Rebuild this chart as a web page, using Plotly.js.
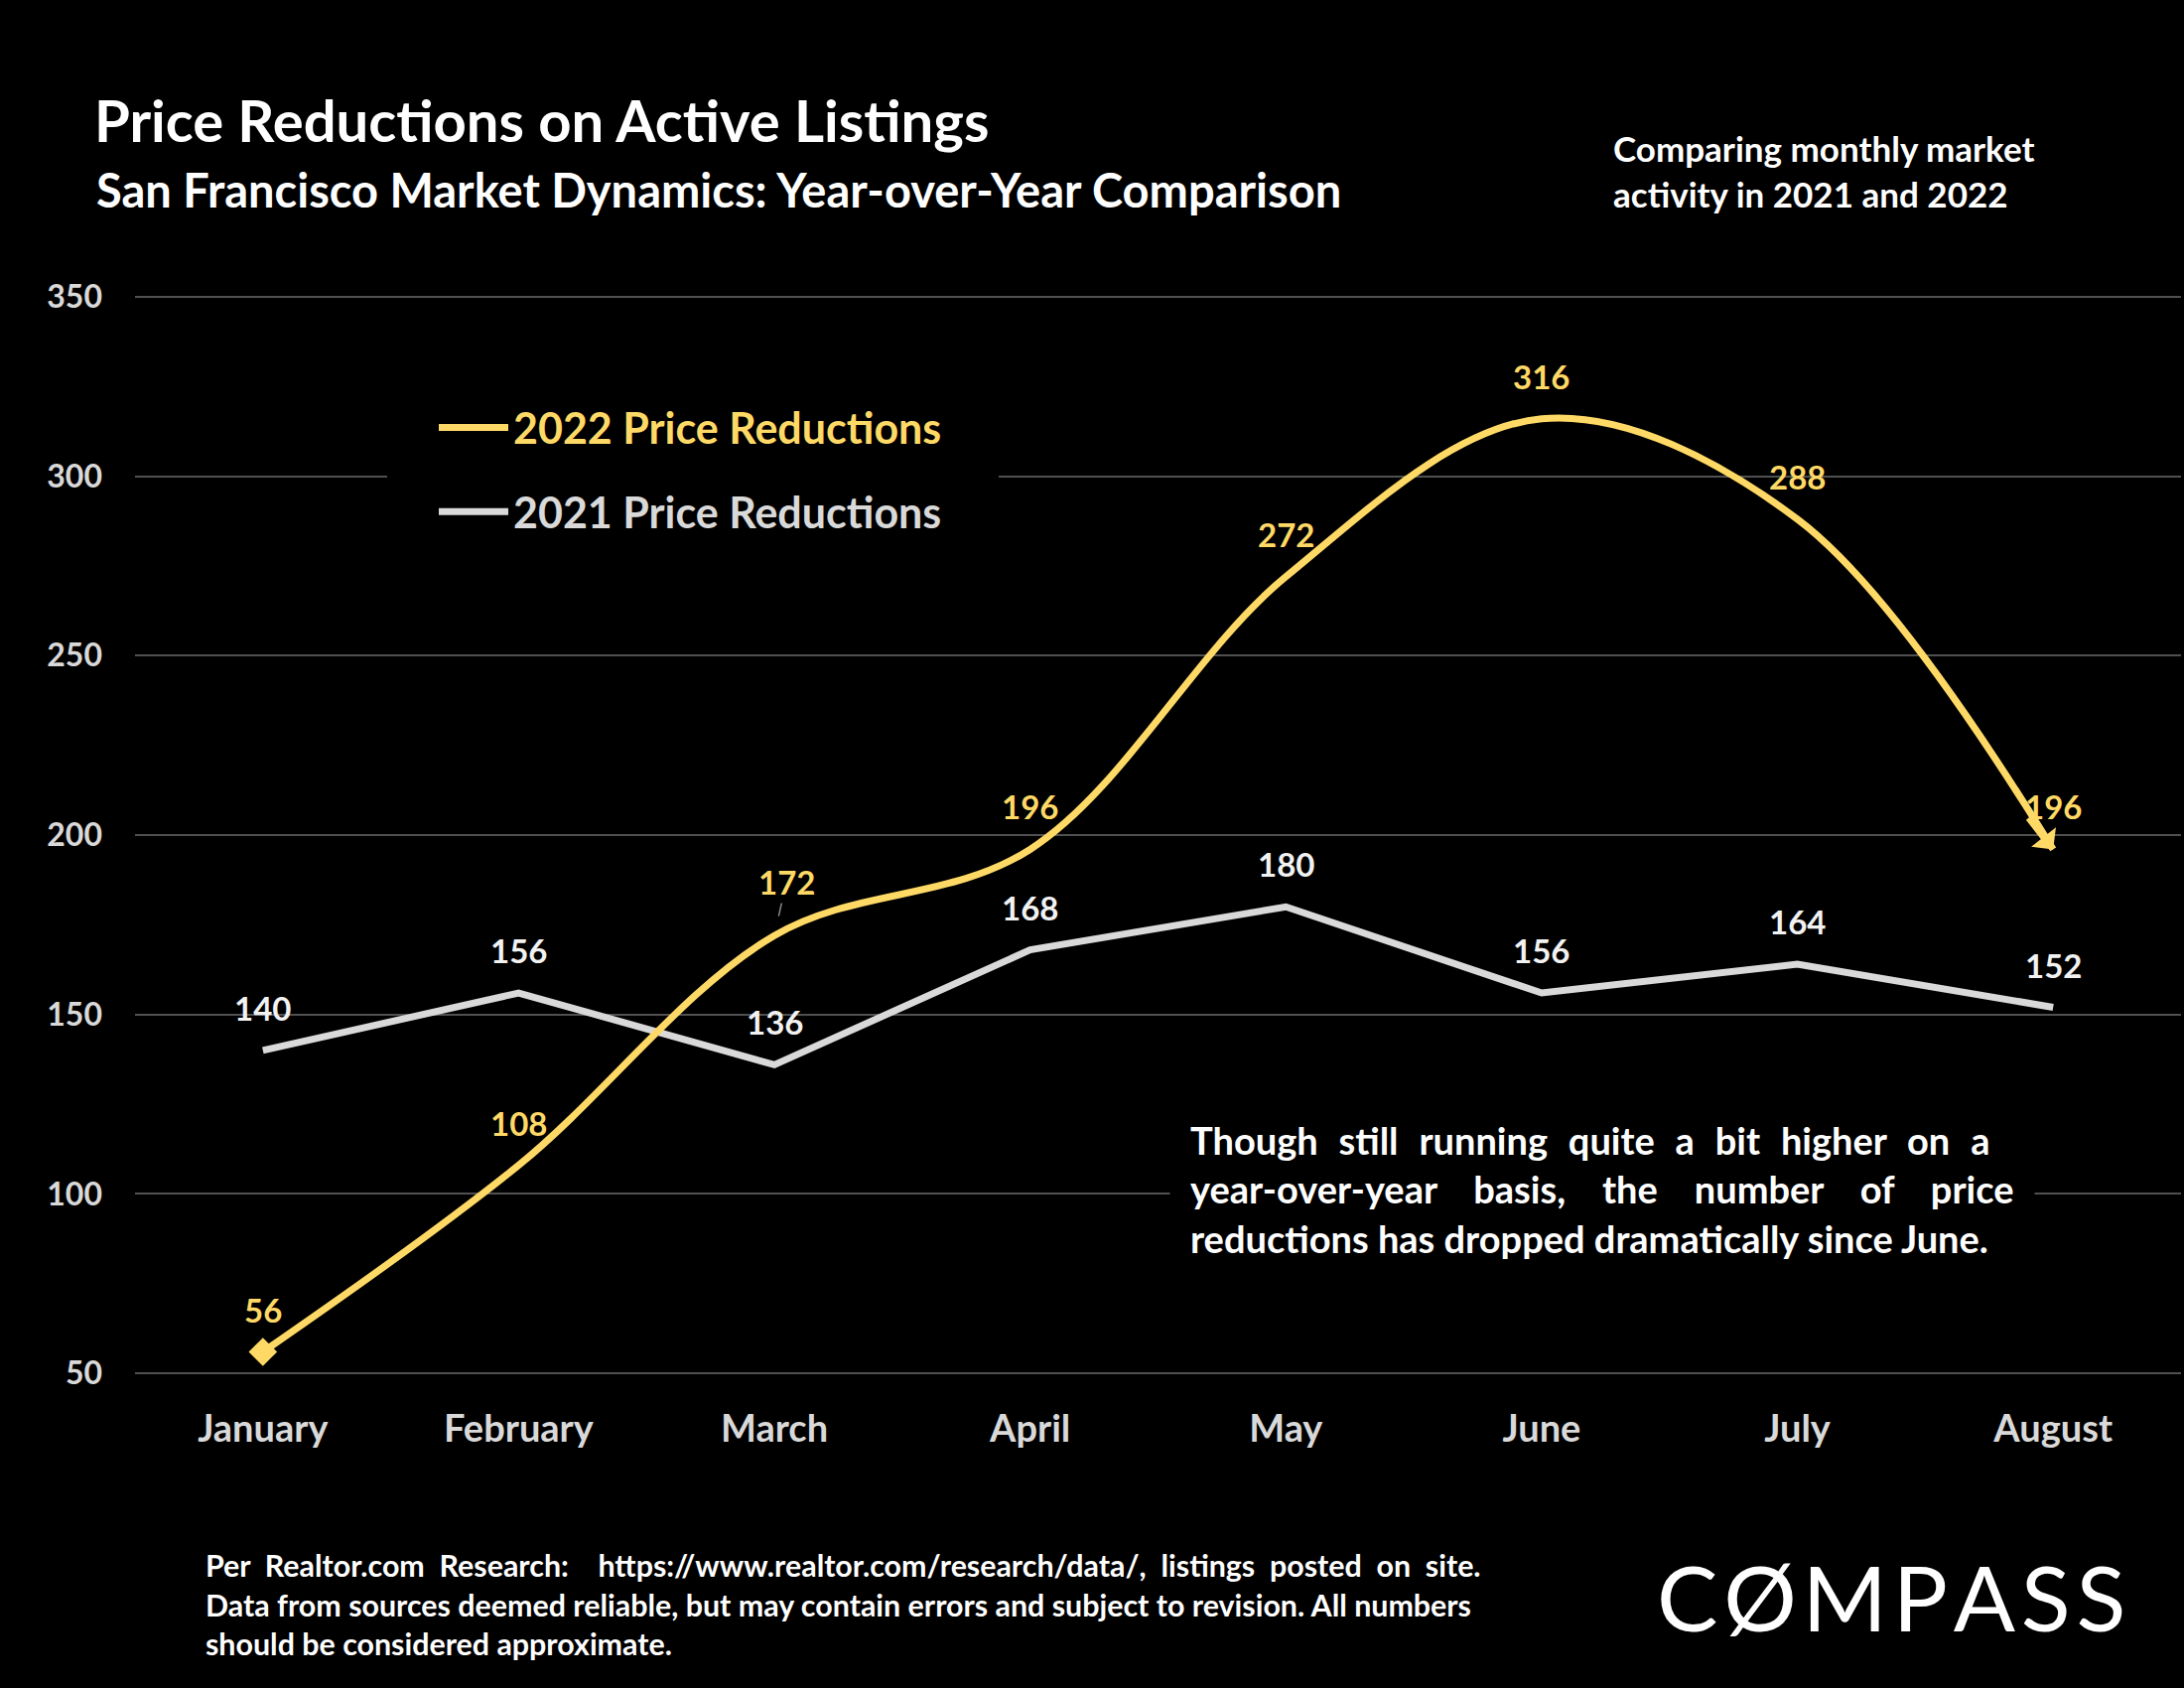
<!DOCTYPE html>
<html>
<head>
<meta charset="utf-8">
<script src="https://cdn.plot.ly/plotly-3.0.1.min.js"></script>
<style>
  html, body { margin: 0; padding: 0; background: #000; }
  #chart { width: 2200px; height: 1700px; }
</style>
</head>
<body>
<div id="chart"></div>
<script>
// ---- Data ----
const months = ['January', 'February', 'March', 'April', 'May', 'June', 'July', 'August'];
const reductions2022 = [56, 108, 172, 196, 272, 316, 288, 196];
const reductions2021 = [140, 156, 136, 168, 180, 156, 164, 152];
const yTicks = [50, 100, 150, 200, 250, 300, 350];

const name2022 = '2022 Price Reductions';
const name2021 = '2021 Price Reductions';

// ---- Styles ----
const YELLOW = '#FFD966';
const GREY = '#D9D9D9';
const FONT = 'Lato, "Open Sans", "Noto Sans", sans-serif';
const last = months.length - 1;

// plot-area helpers (pixel -> paper)
const PL = 136, PW = 2061, PT = 297, PH = 1088;
const px = v => (v - PL) / PW;
const py = v => 1 - (v - PT) / PH;

// widen word gaps to imitate justified text
const NB = '\u00A0';
const justify = (line, extra) => line.split(' ').join(' ' + extra);

const trace2021 = {
  x: months, y: reductions2021, type: 'scatter', mode: 'lines',
  name: '<span style="color:' + GREY + '">' + name2021 + '</span>',
  line: { color: GREY, width: 7 },
  legendgroup: 'g2021', legendrank: 2,
  hoverinfo: 'skip'
};

const trace2022 = {
  x: months, y: reductions2022, type: 'scatter', mode: 'lines',
  name: '<span style="color:' + YELLOW + '">' + name2022 + '</span>',
  line: { color: YELLOW, width: 7, shape: 'spline', smoothing: 1 },
  legendgroup: 'g2022', legendrank: 1,
  hoverinfo: 'skip'
};

// start diamond of 2022 series
const start2022 = {
  x: [months[0]], y: [reductions2022[0]], type: 'scatter', mode: 'markers',
  marker: { color: YELLOW, symbol: 'diamond', size: 22 },
  showlegend: false, hoverinfo: 'skip', legendgroup: 'g2022'
};

// ---- Data labels ----
const labelFont = { family: FONT, size: 33, weight: 'bold' };
const annotations = [];
reductions2022.forEach((v, i) => {
  const a = {
    x: months[i], y: v, xref: 'x', yref: 'y', text: String(v),
    font: Object.assign({}, labelFont, { color: YELLOW }),
    showarrow: false, yshift: 43, xanchor: 'center', yanchor: 'middle'
  };
  if (i === 2) {
    Object.assign(a, {
      showarrow: true, ax: 12, ay: -54, arrowhead: 0, arrowwidth: 1.5,
      arrowcolor: '#8a8a8a', standoff: 20, yshift: 0
    });
  }
  annotations.push(a);
});
reductions2021.forEach((v, i) => {
  annotations.push({
    x: months[i], y: v, xref: 'x', yref: 'y', text: String(v),
    font: Object.assign({}, labelFont, { color: '#F2F2F2' }),
    showarrow: false, yshift: 43, xanchor: 'center', yanchor: 'middle'
  });
});

// end arrowhead of the 2022 series, pointing along the last segment
const tailFrac = 0.1;
annotations.push({
  x: last, y: reductions2022[last], xref: 'x', yref: 'y',
  axref: 'x', ayref: 'y',
  ax: last - tailFrac, ay: reductions2022[last] + tailFrac * (reductions2022[last - 1] - reductions2022[last]),
  text: '', showarrow: true, arrowhead: 1, arrowsize: 0.75, arrowwidth: 7,
  arrowcolor: YELLOW, standoff: 0
});

// ---- Text blocks ----
annotations.push({
  xref: 'paper', yref: 'paper', x: px(95), y: py(191),
  xanchor: 'left', yanchor: 'middle', showarrow: false,
  text: 'San Francisco Market Dynamics: Year-over-Year Comparison',
  font: { family: FONT, size: 47, weight: 'bold', color: '#FFFFFF' }
});
annotations.push({
  xref: 'paper', yref: 'paper', x: px(1623), y: py(172),
  xanchor: 'left', yanchor: 'middle', showarrow: false, align: 'left',
  text: 'Comparing monthly market<br>activity in 2021 and 2022',
  font: { family: FONT, size: 35, weight: 'bold', color: '#FFFFFF' }
});
annotations.push({
  xref: 'paper', yref: 'paper', x: px(1178), y: py(1197),
  xanchor: 'left', yanchor: 'middle', showarrow: false, align: 'left',
  bgcolor: '#000000', borderpad: 20,
  text: justify('Though still running quite a bit higher on a', NB + '\u200A') + '<br>' +
        justify('year-over-year basis, the number of price', NB.repeat(3)) + '<br>' +
        'reductions has dropped dramatically since June.',
  font: { family: FONT, size: 38, weight: 'bold', color: '#FFFFFF' }
});
annotations.push({
  xref: 'paper', yref: 'paper', x: px(205), y: py(1615),
  xanchor: 'left', yanchor: 'middle', showarrow: false, align: 'left',
  text: justify('Per Realtor.com Research:  https://www.realtor.com/research/data/, listings posted on site.', NB) + '<br>' +
        'Data from sources deemed reliable, but may contain errors and subject to revision. All numbers<br>' +
        'should be considered approximate.',
  font: { family: FONT, size: 30.4, weight: 'bold', color: '#FFFFFF' }
});
annotations.push({
  xref: 'paper', yref: 'paper', x: px(1905), y: py(1607),
  xanchor: 'center', yanchor: 'middle', showarrow: false,
  text: 'C\u200AØ\u200AM\u200AP\u200AA\u200AS\u200AS',
  font: { family: FONT, size: 92, weight: 400, color: '#FFFFFF' }
});

const layout = {
  width: 2200, height: 1700,
  paper_bgcolor: '#000000', plot_bgcolor: '#000000',
  font: { family: FONT, color: '#FFFFFF' },
  margin: { l: PL, r: 2200 - PL - PW, t: PT, b: 1700 - PT - PH, autoexpand: false },
  title: {
    text: 'Price Reductions on Active Listings',
    xref: 'container', yref: 'container',
    x: 95 / 2200, xanchor: 'left', y: 1 - 123 / 1700, yanchor: 'middle',
    font: { family: FONT, size: 58, weight: 'bold', color: '#FFFFFF' }
  },
  xaxis: {
    type: 'category', range: [-0.5, 7.5], showgrid: false, zeroline: false, showline: false,
    ticks: '', ticklabelstandoff: 28,
    tickfont: { family: FONT, size: 38, weight: 'bold', color: GREY },
    fixedrange: true
  },
  yaxis: {
    range: [49.5, 350.5], tickvals: yTicks, ticktext: yTicks.map(String),
    showgrid: true, gridcolor: '#505050', gridwidth: 2,
    zeroline: false, showline: false, ticks: '', ticklabelstandoff: 32,
    tickfont: { family: FONT, size: 32, weight: 'bold', color: GREY },
    fixedrange: true
  },
  showlegend: true,
  legend: {
    xref: 'paper', yref: 'paper',
    x: px(437), y: py(396), xanchor: 'left', yanchor: 'top',
    bgcolor: '#000000', borderwidth: 0,
    itemwidth: 70, tracegroupgap: 26, traceorder: 'grouped',
    font: { family: FONT, size: 43, weight: 'bold', color: '#FFFFFF' }
  },
  shapes: [{
    type: 'rect', xref: 'paper', yref: 'y', layer: 'above',
    x0: px(390), x1: px(1006), y0: 296, y1: 304,
    fillcolor: '#000000', line: { width: 0 }
  }],
  annotations: annotations
};

Plotly.newPlot('chart', [trace2021, trace2022, start2022], layout, { displayModeBar: false, staticPlot: true });
</script>
</body>
</html>
